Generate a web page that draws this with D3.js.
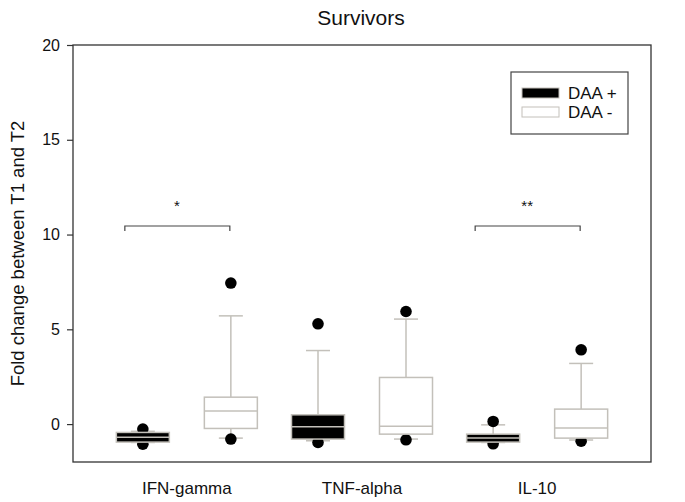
<!DOCTYPE html>
<html>
<head>
<meta charset="utf-8">
<script src="https://cdn.jsdelivr.net/npm/d3@7"></script>
<style>
    body { margin: 0; background: #fff; }
    text { font-family: Arial, "Liberation Sans", sans-serif; fill: #111; }
</style>
</head>
<body>
<svg id="chart" width="685" height="502"></svg>
<script>
// data
var categories = ["IFN-gamma", "TNF-alpha", "IL-10"];
var groups = ["DAA +", "DAA -"];

// [whisker low, q1, median, q3, whisker high] per category
var daaPlus = [
    [-0.97, -0.95, -0.69, -0.44, -0.38],
    [-0.88, -0.79, -0.14, 0.49, 3.88],
    [-0.97, -0.95, -0.74, -0.53, -0.04]
];
var daaMinus = [
    [-0.74, -0.23, 0.69, 1.42, 5.71],
    [-0.79, -0.53, -0.11, 2.46, 5.54],
    [-0.84, -0.74, -0.2, 0.79, 3.2]
];
var outliersPlus = [[-0.26, -1.06], [5.29, -0.97], [0.14, -1.04]];
var outliersMinus = [[7.44, -0.79], [5.94, -0.83], [3.92, -0.9]];

var yTicks = [0, 5, 10, 15, 20];
var signif = [
    { category: "IFN-gamma", value: 10.45, label: "*" },
    { category: "IL-10", value: 10.45, label: "**" }
];

var svg = d3.select("#chart");
var plotL = 73, plotR = 651, plotT = 45, plotB = 462;
var gray = "#c3c0ba";

var x = d3.scalePoint().domain(categories).range([plotL, plotR]).padding(0.65);
var sub = d3.scalePoint().domain(groups).range([-44, 44]);
var y = d3.scaleLinear().domain([-2, 20]).range([plotB, plotT]);
var boxW = 53, capW = 24;

// frame
svg.append("rect")
    .attr("x", plotL).attr("y", plotT)
    .attr("width", plotR - plotL).attr("height", plotB - plotT)
    .attr("fill", "none").attr("stroke", "#333").attr("stroke-width", 1.3);

var yAxis = svg.append("g")
    .attr("transform", "translate(" + plotL + ",0)")
    .call(d3.axisLeft(y).tickValues(yTicks).tickSize(6).tickPadding(7));
yAxis.select(".domain").remove();
yAxis.selectAll("line").attr("stroke", "#333").attr("stroke-width", 1.2);
yAxis.selectAll("text").style("font-size", "16px").style("font-family", "Arial, 'Liberation Sans', sans-serif").attr("fill", "#111");

// boxes
var rows = [];
categories.forEach(function(c, i) {
    rows.push({ cat: c, grp: groups[0], s: daaPlus[i], out: outliersPlus[i], fill: "#000" });
    rows.push({ cat: c, grp: groups[1], s: daaMinus[i], out: outliersMinus[i], fill: "#fff" });
});

var box = svg.append("g").selectAll("g").data(rows).enter().append("g")
    .attr("transform", function(d) { return "translate(" + (x(d.cat) + sub(d.grp)) + ",0)"; });

box.append("line")
    .attr("x1", 0).attr("x2", 0)
    .attr("y1", function(d) { return y(d.s[0]); })
    .attr("y2", function(d) { return y(d.s[4]); })
    .attr("stroke", gray).attr("stroke-width", 1.5);
box.selectAll(".cap").data(function(d) { return [d.s[0], d.s[4]]; }).enter().append("line")
    .attr("x1", -capW / 2).attr("x2", capW / 2)
    .attr("y1", function(v) { return y(v); }).attr("y2", function(v) { return y(v); })
    .attr("stroke", gray).attr("stroke-width", 1.5);
box.selectAll(".out").data(function(d) { return d.out; }).enter().append("circle")
    .attr("cx", 0).attr("cy", function(v) { return y(v); })
    .attr("r", 5.8).attr("fill", "#000");
box.append("rect")
    .attr("x", -boxW / 2).attr("width", boxW)
    .attr("y", function(d) { return y(d.s[3]); })
    .attr("height", function(d) { return y(d.s[1]) - y(d.s[3]); })
    .attr("fill", function(d) { return d.fill; })
    .attr("stroke", gray).attr("stroke-width", 1.5);
box.append("line")
    .attr("x1", -boxW / 2).attr("x2", boxW / 2)
    .attr("y1", function(d) { return y(d.s[2]); })
    .attr("y2", function(d) { return y(d.s[2]); })
    .attr("stroke", gray).attr("stroke-width", 1.5);

// significance brackets
var br = svg.append("g").selectAll("g").data(signif).enter().append("g");
br.append("path")
    .attr("d", function(d) {
        var x0 = x(d.category) - 62, x1 = x(d.category) + 43, yy = y(d.value);
        return "M" + x0 + "," + (yy + 5) + "V" + yy + "H" + x1 + "V" + (yy + 5);
    })
    .attr("fill", "none").attr("stroke", "#444").attr("stroke-width", 1.2);
br.append("text")
    .attr("x", function(d) { return x(d.category) - 10; })
    .attr("y", function(d) { return y(d.value) - 15; })
    .attr("text-anchor", "middle")
    .style("font-size", "15px")
    .text(function(d) { return d.label; });

// category labels
svg.append("g").selectAll("text").data(categories).enter().append("text")
    .attr("x", function(d) { return x(d); })
    .attr("y", 494)
    .attr("text-anchor", "middle")
    .style("font-size", "17px")
    .text(function(d) { return d; });

// title and y label
svg.append("text")
    .attr("x", 361).attr("y", 25)
    .attr("text-anchor", "middle")
    .style("font-size", "21px")
    .text("Survivors");
svg.append("text")
    .attr("transform", "translate(24," + ((plotT + plotB) / 2) + ") rotate(-90)")
    .attr("text-anchor", "middle")
    .style("font-size", "18.5px")
    .text("Fold change between T1 and T2");

// legend
var lg = svg.append("g").attr("transform", "translate(511,72)");
lg.append("rect")
    .attr("width", 117).attr("height", 62)
    .attr("fill", "#fff").attr("stroke", "#444").attr("stroke-width", 1.2);
var item = lg.selectAll(".item").data(groups).enter().append("g")
    .attr("transform", function(d, i) { return "translate(11," + (16 + i * 19) + ")"; });
item.append("rect")
    .attr("width", 37).attr("height", 10)
    .attr("fill", function(d, i) { return i == 0 ? "#000" : "#fff"; })
    .attr("stroke", gray).attr("stroke-width", 1);
item.append("text")
    .attr("x", 46).attr("y", 5).attr("dy", "0.35em")
    .style("font-size", "17px")
    .text(function(d) { return d; });
</script>
</body>
</html>
